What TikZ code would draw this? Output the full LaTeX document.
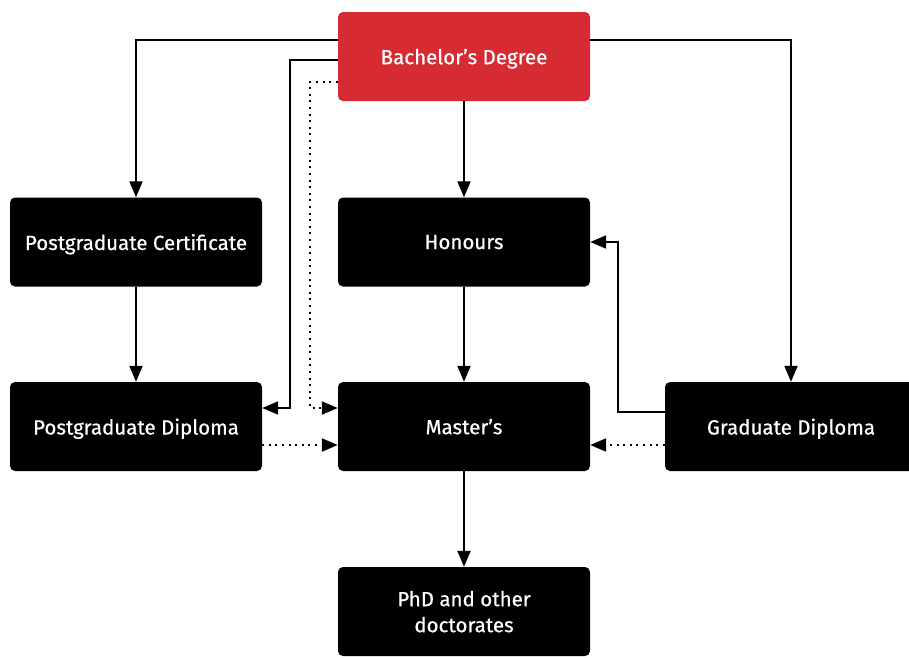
\documentclass[tikz,border=0pt]{standalone}
\usepackage{fontspec}
\setmainfont{Fira Sans}[FakeBold=0.6]
\usetikzlibrary{arrows.meta}
\definecolor{degreered}{HTML}{D62B32}
\tikzset{
  box/.style={fill=black, text=white, rounded corners=5pt, minimum width=252pt,
    minimum height=89pt, inner sep=2pt, align=center, text depth=0pt,
    font=\fontsize{20.5}{26}\selectfont},
  link/.style={line width=2pt, -{Triangle[length=16pt,width=13pt]}},
  dotlink/.style={link, dash pattern=on 2pt off 4.6pt}
}
\begin{document}
\begin{tikzpicture}[x=1pt,y=-1pt]
\clip (0,0) rectangle (909,657);

\node [box, fill=degreered] (bach) at (464,56.5) {Bachelor’s Degree};
\node [box] (pgcert) at (136,242) {Postgraduate Certificate};
\node [box] (hons) at (464,242) {Honours};
\node [box] (pgdip) at (136,426.5) {Postgraduate Diploma};
\node [box] (mast) at (464,426.5) {Master’s};
\node [box] (graddip) at (791,426.5) {Graduate Diploma};
\node [box] (phd) at (464,611.5) {PhD and other\\doctorates};

\begin{scope}[link]
\draw (bach.west |- 0,40) -| (pgcert.north);
\draw (bach.east |- 0,40) -| (graddip.north);
\draw (bach.west |- 0,60) -| (290,408) -- (pgdip.east |- 0,408);
\draw (bach) -- (hons);
\draw (pgcert) -- (pgdip);
\draw (hons) -- (mast);
\draw (mast) -- (phd);
\draw (graddip.west |- 0,412) -| (618,242) -- (hons.east);
\end{scope}

\begin{scope}[dotlink]
\draw (bach.west |- 0,82) -| (310,408) -- (mast.west |- 0,408);
\draw (pgdip.east |- 0,445) -- (mast.west |- 0,445);
\draw (graddip.west |- 0,445) -- (mast.east |- 0,445);
\end{scope}
\end{tikzpicture}
\end{document}
